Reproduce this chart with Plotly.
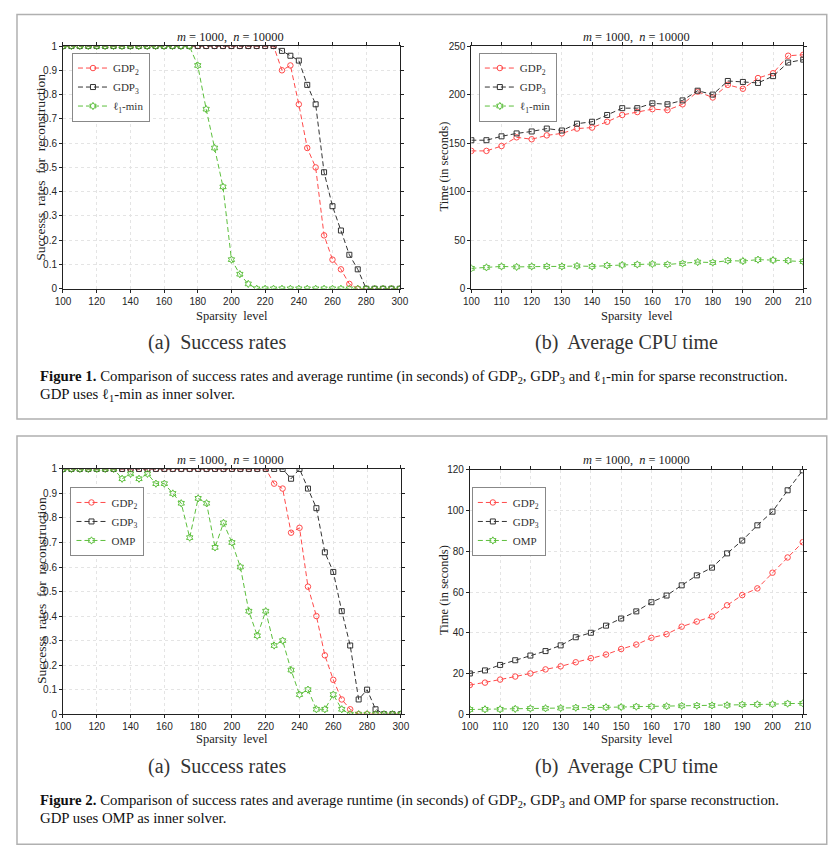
import plotly.graph_objects as go
from plotly.subplots import make_subplots

# sparsity levels
k_rate = list(range(100, 301, 5))
k_time = list(range(100, 211, 5))

# Figure 1 (a): success rates, l1-min as inner solver
f1_gdp2 = [1]*26 + [0.90, 0.92, 0.76, 0.58, 0.50, 0.22, 0.12, 0.08, 0.02, 0, 0, 0, 0, 0, 0]
f1_gdp3 = [1]*26 + [0.98, 0.96, 0.94, 0.84, 0.76, 0.48, 0.34, 0.24, 0.14, 0.08, 0, 0, 0, 0, 0]
f1_l1 = [1]*16 + [0.92, 0.74, 0.58, 0.42, 0.12, 0.06, 0.02] + [0]*18

# Figure 1 (b): CPU time
f1_t_gdp2 = [142, 142, 147, 156, 154, 158, 160, 165, 166, 172, 179, 182,
             185, 184, 190, 203, 197, 210, 206, 217, 222, 240, 241]
f1_t_gdp3 = [153, 153, 157, 160, 162, 165, 163, 170, 172, 179, 186, 186,
             191, 190, 194, 204, 200, 214, 213, 212, 219, 233, 236]
f1_t_l1 = [21, 22, 23, 22.5, 23, 23, 23, 23.5, 23, 24, 24.5, 25,
           25.5, 25, 26, 27.5, 27, 29, 28.5, 30, 29.5, 29, 28]

# Figure 2 (a): success rates, OMP as inner solver
f2_gdp2 = [1]*25 + [0.94, 0.92, 0.74, 0.76, 0.52, 0.40, 0.24, 0.14, 0.06, 0.02] + [0]*6
f2_gdp3 = [1]*27 + [0.96, 1.0, 0.92, 0.84, 0.66, 0.58, 0.42, 0.28, 0.06, 0.10, 0.02, 0, 0, 0, 0]
f2_omp = [1]*7 + [0.96, 0.98, 0.96, 0.98, 0.94, 0.94, 0.90, 0.86, 0.72, 0.88, 0.86,
                  0.68, 0.78, 0.70, 0.60, 0.42, 0.32, 0.42, 0.28, 0.30, 0.18, 0.08,
                  0.10, 0.02, 0.02, 0.08, 0.02] + [0]*7

# Figure 2 (b): CPU time
f2_t_gdp2 = [14.3, 15.5, 17, 18.5, 20, 22, 23.5, 25.5, 27.5, 29.3, 32, 34.2,
             37.5, 39.3, 43, 45.5, 48, 53.5, 58.5, 61.8, 69.5, 77, 84.5]
f2_t_gdp3 = [20, 21.5, 24.2, 26.5, 28.8, 31, 33.8, 37.8, 40, 43.5, 47, 50.5,
             55, 58.3, 63.3, 68.2, 72, 79, 85.3, 92.8, 99.5, 110, 119.8]
f2_t_omp = [2.3, 2.4, 2.4, 2.6, 2.8, 2.9, 3, 3.2, 3.3, 3.4, 3.5, 3.7,
            3.8, 3.9, 4.1, 4.2, 4.3, 4.4, 4.7, 4.8, 4.9, 5.2, 5.3]

W, H = 837, 854
RED, GRAY, GREEN = "#ff4a4a", "#333333", "#5cbf3c"
SERIF = "Liberation Serif"
SANS = "Liberation Sans"

# positions below are given in screenshot pixels; the page ends up
# slightly shrunk and shifted in the photo, so undo that here
def px(x):
    return (x - 15) / 0.98 / W

def py(y):
    return 1 - (y - 13.5) / 0.985 / H

fig = make_subplots(rows=2, cols=2)

panels = [
    (1, 1, k_rate, [f1_gdp2, f1_gdp3, f1_l1], "\u2113<sub>1</sub>-min", "legend"),
    (1, 2, k_time, [f1_t_gdp2, f1_t_gdp3, f1_t_l1], "\u2113<sub>1</sub>-min", "legend2"),
    (2, 1, k_rate, [f2_gdp2, f2_gdp3, f2_omp], "OMP", "legend3"),
    (2, 2, k_time, [f2_t_gdp2, f2_t_gdp3, f2_t_omp], "OMP", "legend4"),
]

for r, c, xs, ys, third, leg in panels:
    styles = [("GDP<sub>2</sub>", RED, "circle-open", 5.5),
              ("GDP<sub>3</sub>", GRAY, "square-open", 5),
              (third, GREEN, "hexagram-open", 5.5)]
    for (name, col, sym, sz), y in zip(styles, ys):
        fig.add_trace(go.Scatter(
            x=xs, y=y, name=name, mode="lines+markers", legend=leg,
            line=dict(color=col, width=1, dash="5px,3px"),
            marker=dict(symbol=sym, size=sz, color=col, line=dict(width=1, color=col))),
            row=r, col=c)

axis_style = dict(showline=True, linecolor="#222", linewidth=1, mirror="ticks",
                  ticks="outside", ticklen=3, tickcolor="#222",
                  showgrid=True, gridcolor="#e4e4e4", griddash="dot", gridwidth=1,
                  zeroline=False, tickfont=dict(family=SANS, size=10, color="#262626"))

# plot areas (left, right), (top, bottom) in screenshot pixels
doms = {
    (1, 1): ([62, 399], [45.5, 288]),
    (1, 2): ([470.5, 802.5], [45.5, 288]),
    (2, 1): ([62, 400], [468, 713]),
    (2, 2): ([469, 802], [469, 713]),
}
for (r, c), (xd, yd) in doms.items():
    fig.update_xaxes(axis_style, domain=[px(xd[0]), px(xd[1])], row=r, col=c)
    fig.update_yaxes(axis_style, domain=[py(yd[1]), py(yd[0])], row=r, col=c)

for r in (1, 2):
    fig.update_xaxes(range=[100, 300], tickvals=list(range(100, 301, 20)), row=r, col=1)
    fig.update_yaxes(range=[0, 1], tickvals=[i / 10 for i in range(11)],
                     ticktext=["0", "0.1", "0.2", "0.3", "0.4", "0.5", "0.6", "0.7", "0.8", "0.9", "1"],
                     row=r, col=1)
    fig.update_xaxes(range=[100, 210], tickvals=list(range(100, 211, 10)), row=r, col=2)
fig.update_yaxes(range=[0, 250], tickvals=[0, 50, 100, 150, 200, 250], row=1, col=2)
fig.update_yaxes(range=[0, 120], tickvals=list(range(0, 121, 20)), row=2, col=2)

leg_style = dict(bgcolor="white", bordercolor="#888", borderwidth=1,
                 font=dict(family=SERIF, size=11, color="#333"),
                 xanchor="left", yanchor="top", itemwidth=30, tracegroupgap=0)
fig.update_layout(
    legend=dict(leg_style, x=px(71), y=py(52)),
    legend2=dict(leg_style, x=px(478), y=py(52)),
    legend3=dict(leg_style, x=px(69.5), y=py(486)),
    legend4=dict(leg_style, x=px(471), y=py(486)),
)

ann = []
def text(x, y, s, size, family=SERIF, angle=0, xanchor="center", color="#222"):
    ann.append(dict(x=px(x), y=py(y), xref="paper", yref="paper", text=s, showarrow=False,
                    xanchor=xanchor, yanchor="middle", textangle=angle,
                    font=dict(family=family, size=size, color=color)))

title = "<i>m</i> = 1000,  <i>n</i> = 10000"
for mid in (36, 459):
    text(230, mid, title, 12.4)
    text(636, mid, title, 12.4)
    text(231, mid + 279, "Sparsity  level", 12.5)
    text(636, mid + 279, "Sparsity  level", 12.5)
    text(40, mid + 130, "Successs  rates  for  reconstruction", 13.5, angle=-90)
    text(443, mid + 130, "Time (in seconds)", 12.5, angle=-90)
    text(216, mid + 306, "(a)  Success rates", 20, color="#333")
    text(626, mid + 306, "(b)  Average CPU time", 20, color="#333")

text(37, 376, "<b>Figure 1.</b> Comparison of success rates and average runtime (in seconds) of "
     "GDP<sub>2</sub>, GDP<sub>3</sub> and \u2113<sub>1</sub>-min for sparse reconstruction.",
     14.8, xanchor="left", color="#111")
text(37, 394, "GDP uses \u2113<sub>1</sub>-min as inner solver.", 14.8, xanchor="left", color="#111")
text(37, 800, "<b>Figure 2.</b> Comparison of success rates and average runtime (in seconds) of "
     "GDP<sub>2</sub>, GDP<sub>3</sub> and OMP for sparse reconstruction.",
     14.8, xanchor="left", color="#111")
text(37, 817, "GDP uses OMP as inner solver.", 14.8, xanchor="left", color="#111")

# figure frames
shapes = [dict(type="rect", xref="paper", yref="paper", x0=px(16), x1=px(826),
               y0=py(418), y1=py(14), line=dict(color="#b0b0b0", width=1.5)),
          dict(type="rect", xref="paper", yref="paper", x0=px(16), x1=px(826),
               y0=py(843), y1=py(435), line=dict(color="#b0b0b0", width=1.5))]

fig.update_layout(width=W, height=H, margin=dict(l=0, r=0, t=0, b=0),
                  paper_bgcolor="white", plot_bgcolor="white",
                  annotations=ann, shapes=shapes)

fig.write_html("out.html")
